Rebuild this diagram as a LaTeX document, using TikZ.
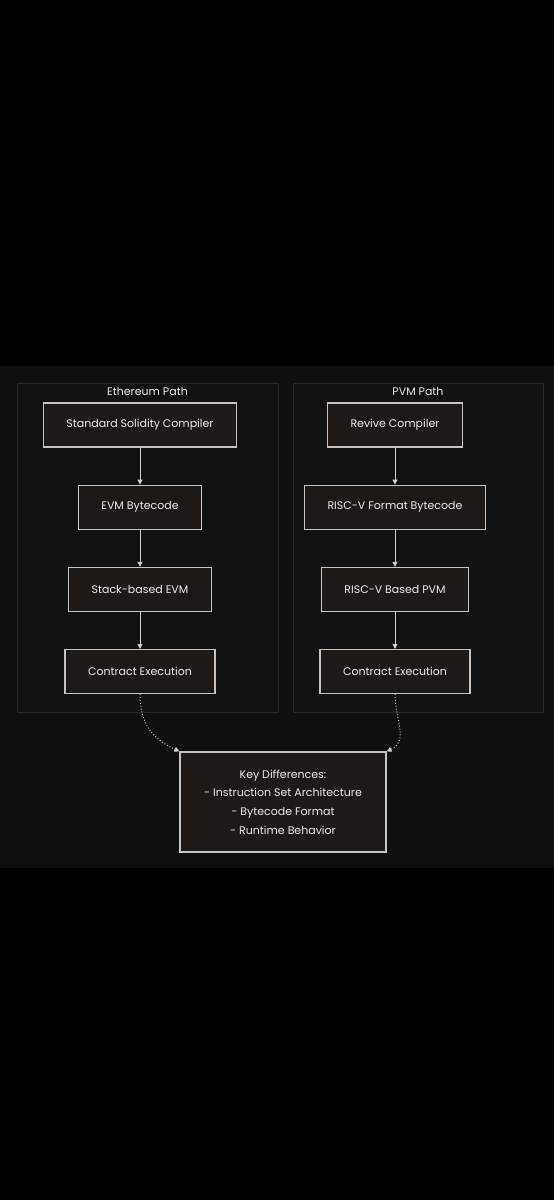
\documentclass[tikz,border=0pt]{standalone}
\usepackage{fontspec}
\setmainfont{Poppins}
\usepackage{tikz}
\usetikzlibrary{
  arrows.meta,
  positioning,
  backgrounds
}
\definecolor{pvBlack}{HTML}{000000}
\definecolor{pvPanel}{HTML}{0F0F0F}
\definecolor{pvZone}{HTML}{2C2828}
\definecolor{pvZoneFill}{HTML}{111111}
\definecolor{pvBox}{HTML}{1C1917}
\definecolor{pvBorder}{HTML}{C4C4C4}
\definecolor{pvText}{HTML}{ECECEC}
\definecolor{pvLine}{HTML}{D0D0D0}
\tikzset{
  stepbox/.style={
    draw=pvBorder, fill=pvBox, line width=1.2pt, text=pvText,
    minimum height=44pt, inner xsep=23pt, font=\fontsize{11}{13}\selectfont
  },
  keybox/.style={stepbox, align=center, minimum width=206pt, minimum height=100pt,
    font=\fontsize{11}{18.7}\selectfont},
  zone/.style={draw=pvZone, fill=pvZoneFill, line width=0.8pt, inner sep=0pt},
  zonetag/.style={text=pvText, font=\fontsize{11}{13}\selectfont, inner sep=1pt},
  flow/.style={-{Triangle[length=5pt, width=5pt]}, draw=pvLine, line width=0.9pt},
  merge/.style={flow, dotted, line width=1pt}
}

\begin{document}
\begin{tikzpicture}[x=1pt, y=-1pt, node distance=37pt]
  \fill[pvBlack] (0,0) rectangle (554,1200);
  \fill[pvPanel] (0,366) rectangle (554,868);
  % path groups
  \node[zone, minimum width=261pt, minimum height=329pt] (ethZone) at (147.5,547.5) {};
  \node[zone, minimum width=250pt, minimum height=329pt] (pvmZone) at (418,547.5) {};
  \node[zonetag, below=4pt of ethZone.north] (ethTag) {Ethereum Path};
  \node[zonetag, below=4pt of pvmZone.north] (pvmTag) {PVM Path};
  % ethereum side
  \node[stepbox] (ethComp) at (140,425) {Standard Solidity Compiler};
  \node[stepbox, below=of ethComp] (ethCode) {EVM Bytecode};
  \node[stepbox, below=of ethCode] (ethVM) {Stack-based EVM};
  \node[stepbox, below=of ethVM] (ethExec) {Contract Execution};
  % pvm side
  \node[stepbox] (pvmComp) at (395,425) {Revive Compiler};
  \node[stepbox, below=of pvmComp] (pvmCode) {RISC-V Format Bytecode};
  \node[stepbox, below=of pvmCode] (pvmVM) {RISC-V Based PVM};
  \node[stepbox, below=of pvmVM] (pvmExec) {Contract Execution};
  \foreach \a/\b in {ethComp/ethCode, ethCode/ethVM, ethVM/ethExec,
                     pvmComp/pvmCode, pvmCode/pvmVM, pvmVM/pvmExec}
    {\draw[flow] (\a) -- (\b);}
  % summary
  \node[keybox] (keyDiff) at (283,802)
    {Key Differences:\\- Instruction Set Architecture\\- Bytecode Format\\- Runtime Behavior};
  \draw[merge] (ethExec.south) to[out=-90, in=155, looseness=1.1] (keyDiff.north west);
  \draw[merge] (pvmExec.south) to[out=-90, in=25, looseness=1.1] (keyDiff.north east);
\end{tikzpicture}
\end{document}
